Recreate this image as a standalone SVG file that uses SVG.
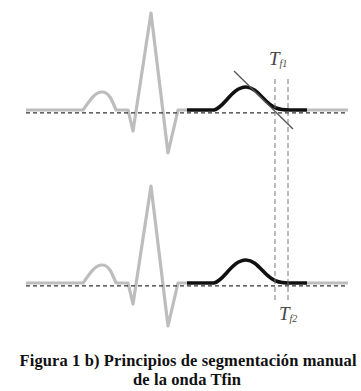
<svg xmlns="http://www.w3.org/2000/svg" width="361" height="391" viewBox="0 0 361 391">
<defs>
<style>
.gray{fill:none;stroke:#bdbdbd;stroke-width:3.2;stroke-linejoin:round;stroke-linecap:butt}
.black{fill:none;stroke:#111;stroke-width:3.6;stroke-linejoin:round}
.base{fill:none;stroke:#333;stroke-width:1.3;stroke-dasharray:4 3}
.vdash{fill:none;stroke:#777;stroke-width:1;stroke-dasharray:5 3}
.tan{fill:none;stroke:#555;stroke-width:1.3}
.lbl{font-family:"Liberation Serif",serif;font-style:italic;fill:#444}
.cap{font-family:"Liberation Serif",serif;font-weight:bold;font-size:16.5px;fill:#111;text-anchor:middle}
</style>
<g id="ecg">
<path class="gray" d="M26 110 L83 110 C90 100 95 92 102 92 C109 92 112 100 116 110 L128 110 L133 131 L151 13 L168 153 L178 110 L187 110"/>
<path class="gray" d="M307 110 L348 110"/>
<path class="black" d="M187 110 L214 110 C224 108 232 87 246 87 C258 87 264 104 276 108 C281 110 285 110 290 110 L307 110"/>
<path class="base" d="M26 112.8 L348 112.8"/>
</g>
</defs>
<g id="top-trace">
<use href="#ecg"/>
</g>
<g id="bottom-trace">
<use href="#ecg" transform="translate(0,173)"/>
</g>
<g id="connectors">
<path class="tan" d="M234 71 L293 129"/>
<path class="vdash" d="M275 79 L275 300"/>
<path class="vdash" d="M288 79 L288 303"/>
</g>
<g id="label-tf1">
<text class="lbl" x="269" y="65" font-size="19">T<tspan font-size="10" dy="2">f1</tspan></text>
</g>
<g id="label-tf2">
<text class="lbl" x="279" y="320" font-size="19">T<tspan font-size="10" dy="2">f2</tspan></text>
</g>
<g id="caption">
<text class="cap" x="188" y="366" textLength="337" lengthAdjust="spacing">Figura 1 b) Principios de segmentación manual</text>
<text class="cap" x="187" y="385" textLength="108" lengthAdjust="spacing">de la onda Tfin</text>
</g>
</svg>
